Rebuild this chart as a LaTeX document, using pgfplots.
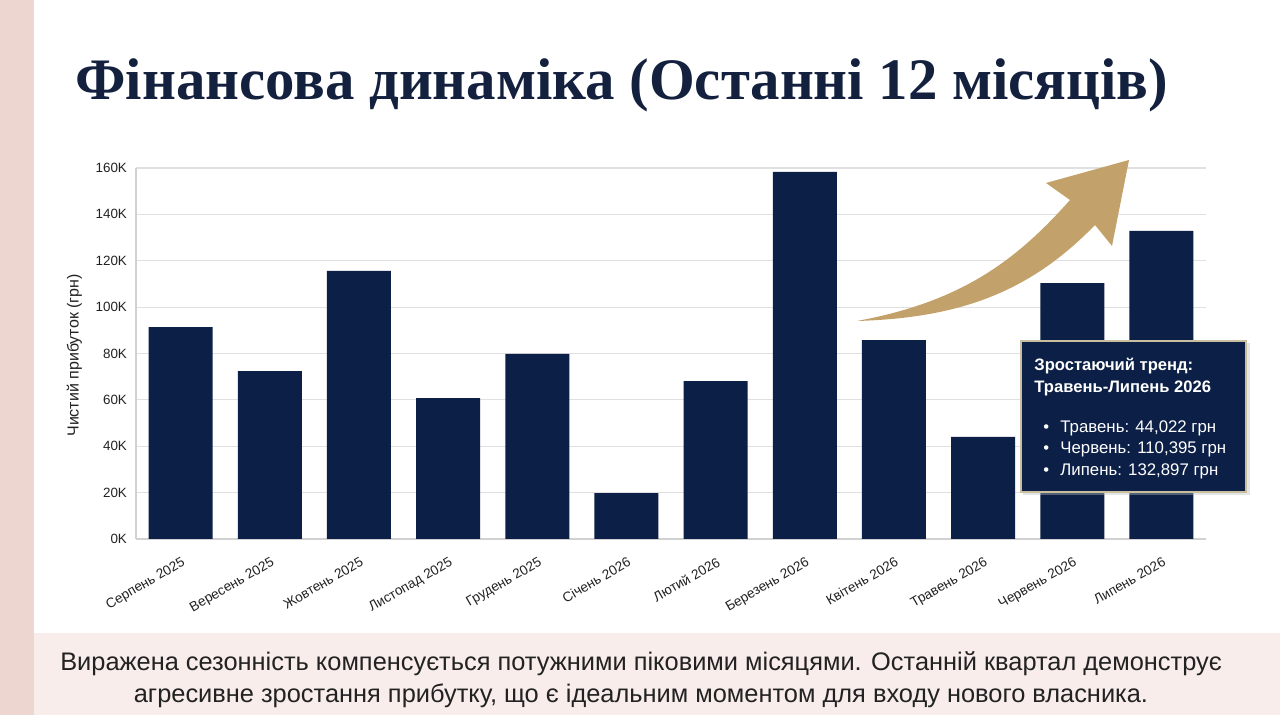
\documentclass[border=0pt]{standalone}
\usepackage{fontspec}
\usepackage{pgfplots}
\pgfplotsset{compat=1.18}
\setmainfont{Liberation Sans}
\newfontfamily\titlefont{Liberation Serif}
\definecolor{navy}{HTML}{0C1F47}
\definecolor{titlenavy}{HTML}{13213F}
\definecolor{gold}{HTML}{C2A26A}
\definecolor{pinkstrip}{HTML}{EED6D0}
\definecolor{pinkband}{HTML}{F8EDEA}
\definecolor{txtgray}{HTML}{222222}
\definecolor{boxedge}{HTML}{C9BE9E}
\begin{document}
\begin{tikzpicture}
\useasboundingbox (0,0) rectangle (640pt,357.5pt);
\begin{scope}[x=0.5pt,y=-0.5pt,yshift=357.5pt]
\fill[white] (0,0) rectangle (1280,715);
\fill[pinkband] (34,633) rectangle (1280,715);
\fill[pinkstrip] (0,0) rectangle (34,715);
\node[anchor=base west, inner sep=0pt, text=titlenavy, font=\titlefont\bfseries\fontsize{29.4}{34}\selectfont] at (75,100) {Фінансова динаміка (Останні 12 місяців)};
\end{scope}
\begin{axis}[
  at={(68pt,88pt)}, anchor=south west,
  scale only axis, width=535pt, height=185.5pt,
  xmin=-0.5, xmax=11.5, ymin=0, ymax=160,
  xtick={0,...,11},
  xticklabels={Серпень 2025,Вересень 2025,Жовтень 2025,Листопад 2025,Грудень 2025,Січень 2026,Лютий 2026,Березень 2026,Квітень 2026,Травень 2026,Червень 2026,Липень 2026},
  x tick label style={rotate=30, anchor=north east, font=\fontsize{6.8}{8}\selectfont, text=txtgray, inner sep=1pt, yshift=-6.5pt, xshift=-3pt},
  ytick={0,20,...,160},
  yticklabels={0K,20K,40K,60K,80K,100K,120K,140K,160K},
  y tick label style={font=\fontsize{6.7}{8}\selectfont, text=txtgray, xshift=-1pt},
  ymajorgrids, grid style={draw=black!12, line width=0.6pt},
  axis lines*=left, axis line style={draw=black!18, line width=0.7pt, -},
  major tick length=0pt,
  ylabel={Чистий прибуток (грн)},
  ylabel style={font=\fontsize{8}{9}\selectfont, text=txtgray, xshift=-1pt},
  /pgf/number format/assume math mode=true,
  clip=false,
]
\addplot[ybar, bar width=32pt, fill=navy, draw=none] coordinates {
(0,91.4) (1,72.4) (2,115.6) (3,60.8) (4,79.8) (5,19.8) (6,68.1) (7,158.3) (8,85.8) (9,44.022) (10,110.395) (11,132.897)};
\end{axis}
\begin{scope}[x=0.5pt,y=-0.5pt,yshift=357.5pt]
% arrow
\fill[gold] (857,321) .. controls (960,302) and (1015,262) .. (1070,200)
  -- (1046,183) -- (1129,160) -- (1112,246) -- (1095,225)
  .. controls (1030,292) and (960,318) .. (857,321) -- cycle;
% callout
\fill[black!25, opacity=0.4] (1023,343) rectangle (1250,495);
\filldraw[fill=navy, draw=boxedge, line width=1.2pt] (1021,341) rectangle (1246,492);
\node[anchor=base west, inner sep=0pt, text=white, font=\bfseries\fontsize{8.3}{9}\selectfont] at (1034,371) {Зростаючий тренд:};
\node[anchor=base west, inner sep=0pt, text=white, font=\bfseries\fontsize{8.3}{9}\selectfont] at (1034,393) {Травень-Липень 2026};
\foreach \yy/\tt in {433/{Травень: 44,022 грн}, 454/{Червень: 110,395 грн}, 476/{Липень: 132,897 грн}}{
  \node[anchor=base west, inner sep=0pt, text=white, font=\fontsize{8.3}{9}\selectfont] at (1043,\yy) {\textbullet};
  \node[anchor=base west, inner sep=0pt, text=white, font=\fontsize{8.4}{9}\selectfont] at (1060,\yy) {\tt};
}
% bottom text
\node[anchor=base, inner sep=0pt, text=txtgray, font=\fontsize{12.7}{14}\selectfont] at (641,671) {Виражена сезонність компенсується потужними піковими місяцями. Останній квартал демонструє};
\node[anchor=base, inner sep=0pt, text=txtgray, font=\fontsize{12.7}{14}\selectfont] at (641,703) {агресивне зростання прибутку, що є ідеальним моментом для входу нового власника.};
\end{scope}
\end{tikzpicture}
\end{document}
